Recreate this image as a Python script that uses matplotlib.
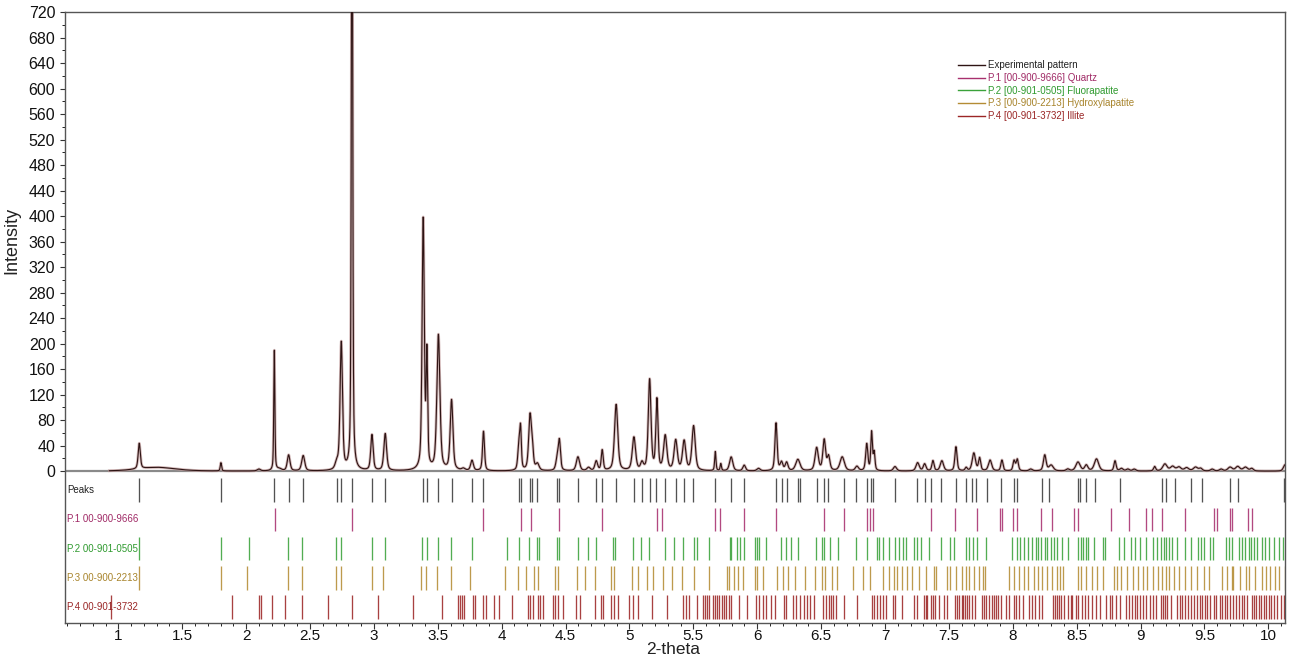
import numpy as np
import matplotlib
matplotlib.use('Agg')
import matplotlib.pyplot as plt
from matplotlib.lines import Line2D
from matplotlib.ticker import MultipleLocator, FormatStrFormatter

plt.rcParams['font.family'] = ['Liberation Sans', 'DejaVu Sans']

# experimental pattern, read as a peak list: position (2-theta), height, fwhm
peak_pos = [1.164, 1.30, 1.803, 2.10, 2.221, 2.26, 2.333, 2.447, 2.71, 2.745,
            2.829, 2.985, 3.089, 3.386, 3.415, 3.505, 3.608, 3.70, 3.768, 3.858,
            4.135, 4.148, 4.222, 4.240, 4.28, 4.435, 4.452, 4.597, 4.68, 4.74,
            4.787, 4.896, 5.035, 5.098, 5.158, 5.215, 5.28, 5.362, 5.428, 5.502,
            5.672, 5.715, 5.796, 5.898, 6.01, 6.147, 6.19, 6.23, 6.318, 6.465,
            6.524, 6.558, 6.665, 6.78, 6.857, 6.895, 6.915, 7.078, 7.255, 7.31,
            7.375, 7.445, 7.555, 7.635, 7.695, 7.74, 7.822, 7.915, 8.01, 8.035,
            8.14, 8.25, 8.30, 8.43, 8.51, 8.575, 8.655, 8.80, 8.85, 8.90,
            8.95, 9.11, 9.19, 9.25, 9.30, 9.36, 9.43, 9.47, 9.56, 9.63,
            9.70, 9.76, 9.82, 9.87, 10.13]
peak_int = [40, 6, 13, 3, 189, 3, 25, 24, 10, 200,
            1100, 56, 58, 392, 175, 212, 110, 3, 16, 62,
            38, 60, 85, 30, 10, 18, 45, 22, 5, 15,
            32, 104, 52, 11, 142, 110, 54, 47, 46, 70,
            30, 11, 22, 9, 4, 75, 13, 13, 18, 36,
            48, 22, 22, 7, 42, 60, 28, 7, 13, 11,
            16, 16, 38, 5, 28, 20, 17, 17, 16, 18,
            3, 25, 9, 3, 14, 9, 19, 16, 4, 3,
            3, 7, 11, 7, 6, 5, 6, 4, 3, 3,
            6, 7, 6, 4, 10]
peak_fwhm = [0.02, 0.35, 0.012, 0.03, 0.010, 0.04, 0.025, 0.028, 0.03, 0.022,
             0.012, 0.022, 0.025, 0.02, 0.014, 0.028, 0.025, 0.03, 0.025, 0.018,
             0.02, 0.015, 0.025, 0.02, 0.03, 0.025, 0.02, 0.03, 0.03, 0.025,
             0.018, 0.03, 0.03, 0.025, 0.025, 0.02, 0.03, 0.03, 0.03, 0.03,
             0.012, 0.012, 0.03, 0.025, 0.03, 0.02, 0.025, 0.025, 0.04, 0.03,
             0.025, 0.025, 0.04, 0.03, 0.02, 0.015, 0.015, 0.03, 0.03, 0.025,
             0.02, 0.03, 0.02, 0.02, 0.03, 0.02, 0.03, 0.02, 0.02, 0.02,
             0.03, 0.025, 0.04, 0.03, 0.04, 0.03, 0.04, 0.02, 0.03, 0.03,
             0.03, 0.02, 0.04, 0.04, 0.04, 0.04, 0.04, 0.03, 0.03, 0.03,
             0.04, 0.04, 0.04, 0.03, 0.03]

# stick rows
peaks_found = [1.164, 1.803, 2.221, 2.335, 2.449, 2.711, 2.742, 2.828, 2.985, 3.089,
               3.386, 3.412, 3.504, 3.608, 3.770, 3.856, 4.138, 4.151, 4.221, 4.237,
               4.279, 4.435, 4.451, 4.594, 4.738, 4.785, 4.894, 5.033, 5.095, 5.158,
               5.210, 5.278, 5.361, 5.426, 5.500, 5.672, 5.792, 5.896, 6.146, 6.191,
               6.230, 6.316, 6.334, 6.464, 6.522, 6.556, 6.678, 6.772, 6.856, 6.892,
               6.908, 7.075, 7.252, 7.309, 7.361, 7.440, 7.552, 7.635, 7.682, 7.714,
               7.800, 7.904, 8.008, 8.032, 8.225, 8.287, 8.509, 8.525, 8.569, 8.642,
               8.835, 9.169, 9.195, 9.268, 9.396, 9.477, 9.696, 9.761, 10.126]
p1_quartz = [2.223, 2.831, 3.856, 4.148, 4.229, 4.451, 4.788, 5.213, 5.257, 5.669,
             5.711, 5.896, 6.146, 6.522, 6.678, 6.856, 6.882, 6.903, 7.356, 7.547,
             7.716, 7.896, 7.912, 8.003, 8.029, 8.222, 8.308, 8.478, 8.509, 8.770,
             8.913, 9.046, 9.086, 9.164, 9.346, 9.578, 9.594, 9.696, 9.717, 9.839,
             9.873]
p2_fluorapatite = [1.162, 1.801, 2.022, 2.330, 2.440, 2.706, 2.742, 2.985, 3.089, 3.379,
                   3.413, 3.499, 3.603, 3.765, 4.039, 4.138, 4.211, 4.274, 4.289, 4.430,
                   4.451, 4.594, 4.678, 4.738, 4.868, 4.889, 5.030, 5.087, 5.155, 5.278,
                   5.348, 5.421, 5.505, 5.531, 5.625, 5.786, 5.797, 5.844, 5.865, 5.899,
                   5.982, 5.995, 6.016, 6.066, 6.183, 6.225, 6.261, 6.321, 6.457, 6.509,
                   6.522, 6.569, 6.634, 6.770, 6.856, 6.939, 6.955, 6.983, 7.030, 7.075,
                   7.108, 7.140, 7.166, 7.226, 7.252, 7.278, 7.343, 7.435, 7.508, 7.539,
                   7.630, 7.661, 7.690, 7.721, 7.794, 7.990, 8.029, 8.060, 8.087, 8.120,
                   8.152, 8.183, 8.199, 8.217, 8.248, 8.269, 8.295, 8.321, 8.347, 8.386,
                   8.433, 8.512, 8.530, 8.548, 8.569, 8.587, 8.634, 8.705, 8.725, 8.830,
                   8.869, 8.921, 8.960, 8.999, 9.039, 9.096, 9.130, 9.156, 9.182, 9.200,
                   9.221, 9.242, 9.281, 9.351, 9.391, 9.448, 9.469, 9.495, 9.547, 9.568,
                   9.672, 9.690, 9.716, 9.768, 9.794, 9.820, 9.846, 9.867, 9.885, 9.911,
                   9.950, 9.976, 10.003, 10.042, 10.081, 10.113]
p3_hydroxylapatite = [1.162, 1.801, 2.009, 2.325, 2.434, 2.701, 2.742, 2.985, 3.073, 3.366,
                      3.405, 3.491, 3.600, 3.752, 4.026, 4.130, 4.190, 4.255, 4.287, 4.417,
                      4.443, 4.592, 4.652, 4.730, 4.853, 4.879, 5.017, 5.069, 5.134, 5.186,
                      5.260, 5.330, 5.408, 5.505, 5.625, 5.766, 5.781, 5.818, 5.852, 5.891,
                      5.982, 5.995, 6.047, 6.152, 6.204, 6.243, 6.295, 6.373, 6.452, 6.509,
                      6.530, 6.582, 6.621, 6.751, 6.830, 6.882, 6.986, 7.030, 7.069, 7.095,
                      7.129, 7.174, 7.213, 7.265, 7.317, 7.382, 7.401, 7.487, 7.505, 7.552,
                      7.599, 7.635, 7.661, 7.695, 7.734, 7.766, 7.781, 7.974, 8.008, 8.047,
                      8.087, 8.120, 8.165, 8.199, 8.230, 8.269, 8.308, 8.342, 8.373, 8.392,
                      8.509, 8.535, 8.569, 8.621, 8.655, 8.705, 8.791, 8.817, 8.843, 8.895,
                      8.939, 8.981, 9.018, 9.052, 9.096, 9.138, 9.169, 9.200, 9.226, 9.260,
                      9.299, 9.351, 9.398, 9.443, 9.495, 9.534, 9.639, 9.678, 9.712, 9.722,
                      9.777, 9.821, 9.852, 9.899, 9.951, 9.982, 10.016, 10.050, 10.081, 10.128]
p4_illite = [0.940, 1.887, 2.103, 2.119, 2.202, 2.304, 2.435, 2.643, 2.831, 3.029,
             3.308, 3.533, 3.655, 3.674, 3.692, 3.707, 3.773, 3.791, 3.851, 3.877,
             3.942, 3.982, 4.078, 4.208, 4.221, 4.242, 4.287, 4.300, 4.321, 4.404,
             4.417, 4.443, 4.477, 4.581, 4.613, 4.730, 4.777, 4.795, 4.853, 4.881,
             4.913, 4.999, 5.030, 5.069, 5.173, 5.291, 5.421, 5.442, 5.468, 5.526,
             5.573, 5.591, 5.609, 5.625, 5.656, 5.669, 5.682, 5.703, 5.721, 5.739,
             5.755, 5.781, 5.792, 5.859, 5.917, 5.990, 6.016, 6.047, 6.068, 6.105,
             6.139, 6.209, 6.225, 6.277, 6.303, 6.334, 6.368, 6.392, 6.412, 6.446,
             6.511, 6.538, 6.564, 6.577, 6.595, 6.613, 6.678, 6.783, 6.895, 6.913,
             6.934, 6.960, 6.986, 7.004, 7.062, 7.075, 7.129, 7.226, 7.252, 7.304,
             7.317, 7.330, 7.356, 7.375, 7.395, 7.421, 7.461, 7.487, 7.547, 7.565,
             7.578, 7.599, 7.609, 7.625, 7.643, 7.661, 7.682, 7.703, 7.761, 7.774,
             7.792, 7.813, 7.839, 7.852, 7.870, 7.886, 7.904, 7.943, 7.969, 8.008,
             8.027, 8.047, 8.079, 8.126, 8.147, 8.173, 8.204, 8.230, 8.313, 8.329,
             8.347, 8.360, 8.381, 8.400, 8.433, 8.452, 8.465, 8.491, 8.512, 8.543,
             8.564, 8.590, 8.621, 8.653, 8.686, 8.726, 8.757, 8.778, 8.809, 8.835,
             8.887, 8.908, 8.929, 8.955, 8.973, 8.999, 9.018, 9.039, 9.070, 9.096,
             9.122, 9.156, 9.174, 9.190, 9.208, 9.234, 9.286, 9.305, 9.325, 9.346,
             9.372, 9.391, 9.417, 9.443, 9.461, 9.477, 9.503, 9.521, 9.547, 9.573,
             9.591, 9.618, 9.638, 9.659, 9.677, 9.696, 9.722, 9.743, 9.769, 9.795,
             9.813, 9.834, 9.868, 9.886, 9.904, 9.925, 9.946, 9.964, 9.982, 10.003,
             10.024, 10.043, 10.069, 10.095, 10.121]

row_labels = ['Peaks', 'P.1 00-900-9666', 'P.2 00-901-0505', 'P.3 00-900-2213', 'P.4 00-901-3732']
legend_labels = ['Experimental pattern', 'P.1 [00-900-9666] Quartz', 'P.2 [00-901-0505] Fluorapatite',
                 'P.3 [00-900-2213] Hydroxylapatite', 'P.4 [00-901-3732] Illite']

exp_color = '#2e1414'
row_colors = ['#3a3a3a', '#a8306e', '#3aa23a', '#b48c34', '#9c2626']
text_colors = ['#222222', '#a02a66', '#2f9a2f', '#a8842c', '#9a2626']

# build the measured curve from the peak list (pseudo-Voigt profile)
x = np.linspace(0.93, 10.13, 12000)
y = np.zeros_like(x)
for p, h, w in zip(peak_pos, peak_int, peak_fwhm):
    d = (x - p) / (w / 2)
    y += h * (0.5 / (1 + d ** 2) + 0.5 * np.exp(-np.log(2) * d ** 2))

fig = plt.figure(figsize=(12.99, 6.58), dpi=100)
ax = fig.add_axes([65 / 1299, 35 / 658, 1220 / 1299, 611 / 658])

ax.axhline(0, color='#8a8a8a', lw=1.6, zorder=1)
ax.plot(x, y, color='#c09a9a', lw=2.0, alpha=0.7, zorder=2)
ax.plot(x, y, color=exp_color, lw=0.8, zorder=3)

rows = [peaks_found, p1_quartz, p2_fluorapatite, p3_hydroxylapatite, p4_illite]
row_top = [-11, -57, -103, -149, -194]
row_h = 37
for i, pos in enumerate(rows):
    ax.vlines(pos, row_top[i] - row_h, row_top[i], color=row_colors[i], lw=0.95, alpha=0.88, zorder=2)
    ax.text(0.60, row_top[i] - row_h / 2, row_labels[i], color=text_colors[i],
            fontsize=7, va='center', ha='left', zorder=4)

ax.set_xlim(0.583, 10.13)
ax.set_ylim(-238, 720)
ax.set_yticks(np.arange(0, 721, 40))
ax.set_yticks(np.arange(0, 721, 20), minor=True)
ax.xaxis.set_major_locator(MultipleLocator(0.5))
ax.xaxis.set_minor_locator(MultipleLocator(0.1))
ax.xaxis.set_major_formatter(FormatStrFormatter('%g'))
ax.tick_params(axis='both', labelsize=11.5, colors='#333333', labelcolor='#111111')
ax.tick_params(axis='x', which='major', length=4, pad=0.5, labelsize=11)
ax.tick_params(axis='both', which='minor', length=2.5)
for s in ax.spines.values():
    s.set_color('#555555')
    s.set_linewidth(1.0)

fig.text(12 / 1299, 1 - 240 / 658, 'Intensity', rotation=90, ha='center', va='center',
         fontsize=13, color='#222222')
fig.text(673 / 1299, 1 - 650 / 658, '2-theta', ha='center', va='center', fontsize=12.5,
         color='#222222')

handles = [Line2D([], [], color=exp_color, lw=1)] + \
          [Line2D([], [], color=c, lw=1) for c in row_colors[1:]]
leg = ax.legend(handles, legend_labels, loc='upper left', bbox_to_anchor=(0.732, 0.921),
                frameon=False, fontsize=7, handlelength=2.8, handletextpad=0.3,
                labelspacing=0.28, borderaxespad=0, borderpad=0)
for t, c in zip(leg.get_texts(), text_colors):
    t.set_color(c)

plt.savefig('out.png', dpi=100)
